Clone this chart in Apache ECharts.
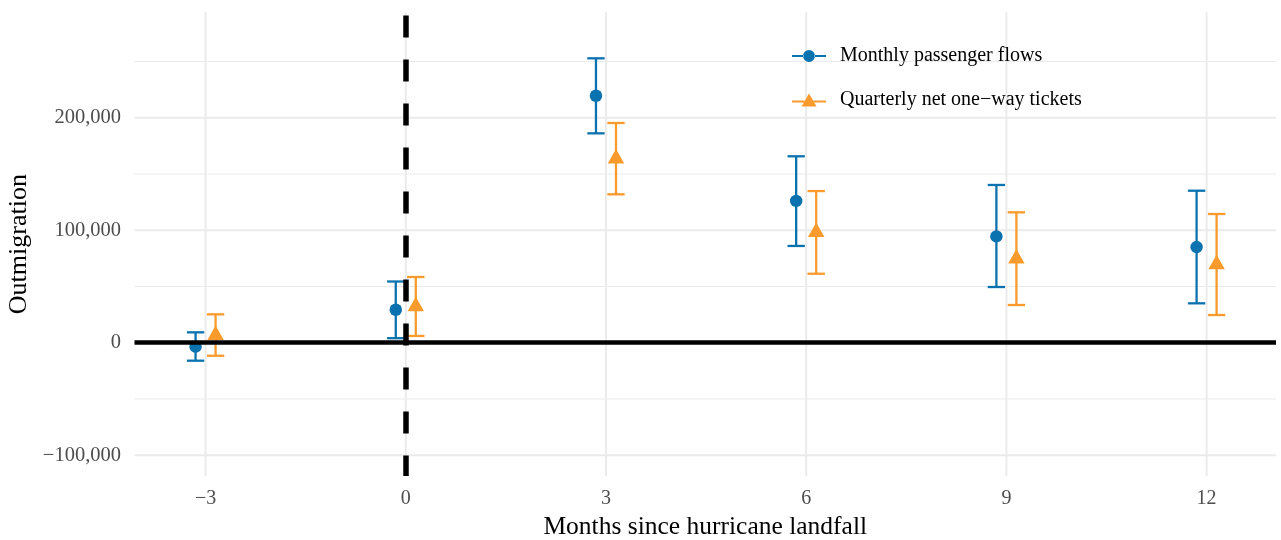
<!DOCTYPE html>
<html>
<head>
<meta charset="utf-8">
<title>Outmigration after hurricane landfall</title>
<script src="https://cdn.jsdelivr.net/npm/echarts@6/dist/echarts.min.js"></script>
<style>
  html, body { margin: 0; padding: 0; background: #ffffff; }
  #chart { width: 1281px; height: 540px; }
</style>
</head>
<body>
<div id="chart"></div>
<script>
// Event-study estimates of outmigration, by months since landfall
const months = [-3, 0, 3, 6, 9, 12];

const monthlyEst = [-3500, 29300, 219500, 126000, 94500, 85000];
const monthlyLo  = [-16000, 4000, 186100, 86000, 49500, 35000];
const monthlyHi  = [9200, 54400, 252800, 165700, 140200, 135100];

const quarterlyEst = [6800, 32300, 163600, 98300, 74800, 69600];
const quarterlyLo  = [-11600, 6000, 131900, 61300, 33500, 24600];
const quarterlyHi  = [25200, 58400, 195300, 134800, 115900, 114400];

const seriesNames = ['Monthly passenger flows', 'Quarterly net one\u2212way tickets'];

const xTickValues = [-3, 0, 3, 6, 9, 12];
const yMajorValues = [-100000, 0, 100000, 200000];
const yMinorValues = [-50000, 50000, 150000, 250000];

// layout / style constants
const DODGE = 0.15;          // horizontal offset between the two series (months)
const CAP = 0.13;            // half width of error bar caps (months)
const BLUE = '#0B72B0';
const ORANGE = '#F99B2C';
const GRID_COLOR = '#EBEBEB';
const FONT = '"Liberation Serif", "DejaVu Serif", serif';

function fmt(v) {
  const s = Math.abs(v).toLocaleString('en-US');
  return v < 0 ? '\u2212' + s : s;
}

const chart = echarts.init(document.getElementById('chart'), null, { renderer: 'canvas' });

// gridlines drawn across the full plotting panel
function hLineItem(params, api) {
  const v = api.value(1);
  const cs = params.coordSys;
  const y = api.coord([0, v])[1];
  const major = v % 100000 === 0;
  return {
    type: 'line',
    shape: { x1: cs.x, y1: y, x2: cs.x + cs.width, y2: y },
    style: { stroke: GRID_COLOR, lineWidth: major ? 2 : 1.1 }
  };
}
function vLineItem(params, api) {
  const v = api.value(0);
  const cs = params.coordSys;
  const x = api.coord([v, 0])[0];
  return {
    type: 'line',
    shape: { x1: x, y1: cs.y, x2: x, y2: cs.y + cs.height },
    style: { stroke: GRID_COLOR, lineWidth: 2 }
  };
}

function errorBarItem(color) {
  return function (params, api) {
    const x = api.value(0);
    const lo = api.coord([x, api.value(1)]);
    const hi = api.coord([x, api.value(2)]);
    const l = api.coord([x - CAP, api.value(1)])[0];
    const r = api.coord([x + CAP, api.value(1)])[0];
    const st = { stroke: color, lineWidth: 2.3, lineCap: 'butt' };
    return {
      type: 'group',
      children: [
        { type: 'line', shape: { x1: lo[0], y1: lo[1], x2: hi[0], y2: hi[1] }, style: st },
        { type: 'line', shape: { x1: l, y1: lo[1], x2: r, y2: lo[1] }, style: st },
        { type: 'line', shape: { x1: l, y1: hi[1], x2: r, y2: hi[1] }, style: st }
      ]
    };
  };
}

const monthlyBars = months.map((m, i) => [m - DODGE, monthlyLo[i], monthlyHi[i]]);
const quarterlyBars = months.map((m, i) => [m + DODGE, quarterlyLo[i], quarterlyHi[i]]);
const monthlyPts = months.map((m, i) => [m - DODGE, monthlyEst[i]]);
const quarterlyPts = months.map((m, i) => [m + DODGE, quarterlyEst[i]]);

// legend keys: line with marker
const circleKey = 'path://M0,6L11.5,6L11.5,8L0,8Z M22.5,6L34,6L34,8L22.5,8Z M11,7A6,6 0 1,0 23,7A6,6 0 1,0 11,7Z';
const triangleKey = 'path://M0,8L12.5,8L12.5,10L0,10Z M21.5,8L34,8L34,10L21.5,10Z M9.5,14L17,1L24.5,14Z';

const option = {
  animation: false,
  backgroundColor: '#ffffff',
  textStyle: { fontFamily: FONT },
  grid: {
    left: 134.5, right: 5, top: 12.3, bottom: 64,
    outerBoundsMode: 'none'
  },
  legend: {
    orient: 'vertical',
    left: 787,
    top: 41,
    itemWidth: 34,
    itemHeight: 13,
    itemGap: 24,
    selectedMode: false,
    textStyle: { fontFamily: FONT, fontSize: 20, color: '#000000', padding: [0, 0, 0, 9] },
    data: [
      { name: seriesNames[0], icon: circleKey, itemStyle: { color: BLUE } },
      { name: seriesNames[1], icon: triangleKey, itemStyle: { color: ORANGE } }
    ]
  },
  xAxis: {
    type: 'value',
    min: -4.065,
    max: 13.04,
    name: 'Months since hurricane landfall',
    nameLocation: 'middle',
    nameGap: 34.5,
    nameTextStyle: { fontFamily: FONT, fontSize: 25.5, color: '#000000' },
    axisLine: { show: false },
    axisTick: { show: false },
    splitLine: { show: false },
    axisLabel: {
      customValues: xTickValues,
      formatter: fmt,
      margin: 13,
      fontFamily: FONT, fontSize: 20, color: '#4D4D4D'
    }
  },
  yAxis: {
    type: 'value',
    min: -118500,
    max: 293700,
    name: 'Outmigration',
    nameLocation: 'middle',
    nameGap: 99,
    nameTextStyle: { fontFamily: FONT, fontSize: 26, color: '#000000' },
    axisLine: { show: false },
    axisTick: { show: false },
    splitLine: { show: false },
    axisLabel: {
      customValues: yMajorValues,
      formatter: fmt,
      margin: 13.5,
      fontFamily: FONT, fontSize: 20.5, color: '#4D4D4D'
    }
  },
  series: [
    {
      type: 'custom', name: 'hgrid', silent: true, z: 0,
      renderItem: hLineItem,
      data: yMajorValues.concat(yMinorValues).map(v => [0, v])
    },
    {
      type: 'custom', name: 'vgrid', silent: true, z: 0,
      renderItem: vLineItem,
      data: xTickValues.map(v => [v, 0])
    },
    {
      type: 'custom', name: seriesNames[0] + ' CI', silent: true, z: 1,
      renderItem: errorBarItem(BLUE),
      encode: { x: 0, y: [1, 2] },
      data: monthlyBars
    },
    {
      type: 'custom', name: seriesNames[1] + ' CI', silent: true, z: 1,
      renderItem: errorBarItem(ORANGE),
      encode: { x: 0, y: [1, 2] },
      data: quarterlyBars
    },
    {
      // reference lines: zero outmigration and landfall
      type: 'line', name: 'reference', silent: true, z: 2,
      data: [],
      symbol: 'none',
      markLine: {
        silent: true,
        symbol: 'none',
        label: { show: false },
        animation: false,
        data: [
          { yAxis: 0, lineStyle: { color: '#000000', width: 4.5, type: 'solid' } },
          { xAxis: 0, lineStyle: { color: '#000000', width: 5.5, type: [22, 22], dashOffset: 1.5, cap: 'butt' } }
        ]
      }
    },
    {
      type: 'scatter', name: seriesNames[0], z: 3,
      symbol: 'circle', symbolSize: 12.5,
      itemStyle: { color: BLUE, opacity: 1 },
      data: monthlyPts
    },
    {
      type: 'scatter', name: seriesNames[1], z: 3,
      symbol: 'triangle', symbolSize: [16.5, 14.5], symbolOffset: [0, -2.4],
      itemStyle: { color: ORANGE, opacity: 1 },
      data: quarterlyPts
    }
  ]
};

chart.setOption(option);
</script>
</body>
</html>
